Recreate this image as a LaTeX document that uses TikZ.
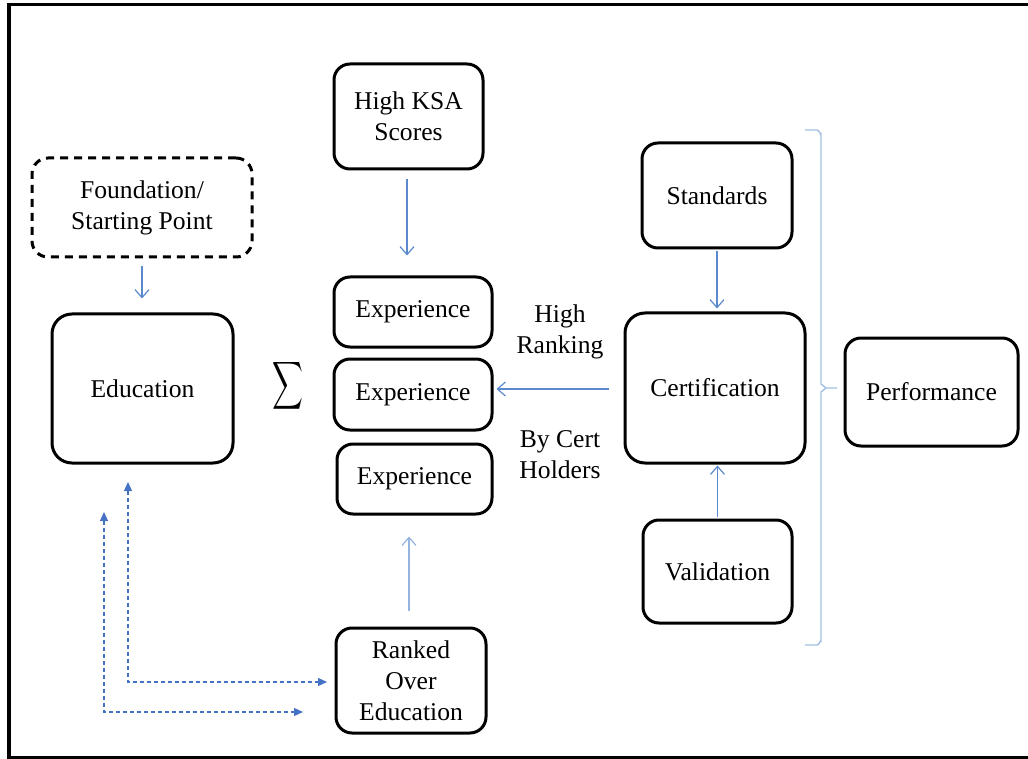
\documentclass[tikz,border=0pt]{standalone}
\usepackage{fontspec}
\usepackage{graphicx}
\setmainfont{Liberation Serif}
\usetikzlibrary{arrows.meta}
\definecolor{arrblue}{RGB}{91,137,205}
\definecolor{lightarr}{RGB}{150,180,225}
\definecolor{dashblue}{RGB}{68,114,196}
\definecolor{bracecol}{RGB}{160,190,228}
\begin{document}
\begin{tikzpicture}[x=0.5pt,y=-0.5pt,
  font=\fontsize{12.8}{15.5}\selectfont,
  box/.style={draw=black,line width=1.5pt,rounded corners=8pt,inner sep=0pt,align=center},
  bigbox/.style={box,rounded corners=10pt},
  dashbox/.style={box,dash pattern=on 4pt off 3pt},
  arr/.style={draw=arrblue,line width=0.6pt,-{Straight Barb[length=4pt,width=7pt]}},
  larr/.style={arr,draw=lightarr},
  darr/.style={draw=dashblue,line width=0.6pt,dash pattern=on 2pt off 1.5pt,
    {Triangle[length=4.5pt,width=4pt]}-{Triangle[length=4.5pt,width=4pt]}},
  lbl/.style={align=center,inner sep=0pt}]
\useasboundingbox (0,0) rectangle (1028,759);
% frame
\draw[line width=1.8pt] (1040,4.5) -- (9,4.5) -- (9,757.5) -- (1040,757.5);

% nodes
\node[dashbox,minimum width=110pt,minimum height=49.5pt] (found) at (142,207.5) {Foundation/\\Starting Point};
\node[bigbox,minimum width=90.5pt,minimum height=74.5pt] (edu) at (142.5,388.5) {Education};
\node[inner sep=0pt] (sigma) at (288,386) {\scalebox{1.07}[1.67]{$\displaystyle\sum$}};
\node[box,minimum width=74.5pt,minimum height=52.5pt] (ksa) at (408.5,116.5) {High KSA\\Scores};
\node[box,minimum width=79pt,minimum height=35pt] (e1) at (413,312) {Experience};
\node[box,minimum width=79pt,minimum height=35.5pt] (e2) at (413,394.5) {Experience};
\node[box,minimum width=77.5pt,minimum height=35pt] (e3) at (414.5,479) {Experience};
\node[box,minimum width=75pt,minimum height=52.5pt] (ranked) at (411,680.5) {Ranked\\Over\\Education};
\node[box,minimum width=75pt,minimum height=52.5pt] (std) at (717,195.5) {Standards};
\node[bigbox,minimum width=90pt,minimum height=75pt] (cert) at (715,388) {Certification};
\node[box,minimum width=74.5pt,minimum height=51.5pt] (val) at (717.5,571.5) {Validation};
\node[box,minimum width=86.5pt,minimum height=54pt] (perf) at (931.5,392) {Performance};

\node[lbl] (hr) at (560,332) {High\\Ranking};
\node[lbl] (bc) at (560,455) {By Cert\\Holders};

% arrows
\draw[arr,shorten <=4pt,shorten >=7pt] (found.south) -- (found.south |- edu.north);
\draw[arr,shorten <=4.5pt,shorten >=10pt] ([xshift=-0.75pt]ksa.south) -- ([xshift=-0.75pt]ksa.south |- e1.north);
\draw[arr,shorten <=1pt,shorten >=1.5pt] (std.south) -- (std.south |- cert.north);
\draw[arr,shorten <=1pt,shorten >=0.5pt] (val.north) -- (val.north |- cert.south);
\draw[arr,shorten <=7.5pt,shorten >=1.5pt] ([yshift=-0.5pt]cert.west) -- ([yshift=-0.5pt]cert.west -| e2.east);
\draw[larr,shorten <=8pt,shorten >=10.5pt] ([xshift=-1pt]ranked.north) -- ([xshift=-1pt]ranked.north |- e3.south);

% dashed double arrows
\coordinate (d1s) at (128,482);
\coordinate (d1e) at (327,682);
\draw[darr] (d1s) |- (d1e);
\coordinate (d2s) at (104,512);
\coordinate (d2e) at (303,712);
\draw[darr] (d2s) |- (d2e);

% brace
\draw[bracecol,line width=0.7pt] (805,130) -- (817,130) to[out=0,in=-90] (821,134)
  -- (821,384) -- (826,388) -- (837,388);
\draw[bracecol,line width=0.7pt] (826,388) -- (821,392) -- (821,641)
  to[out=90,in=0] (817,645) -- (805,645);
\end{tikzpicture}
\end{document}
